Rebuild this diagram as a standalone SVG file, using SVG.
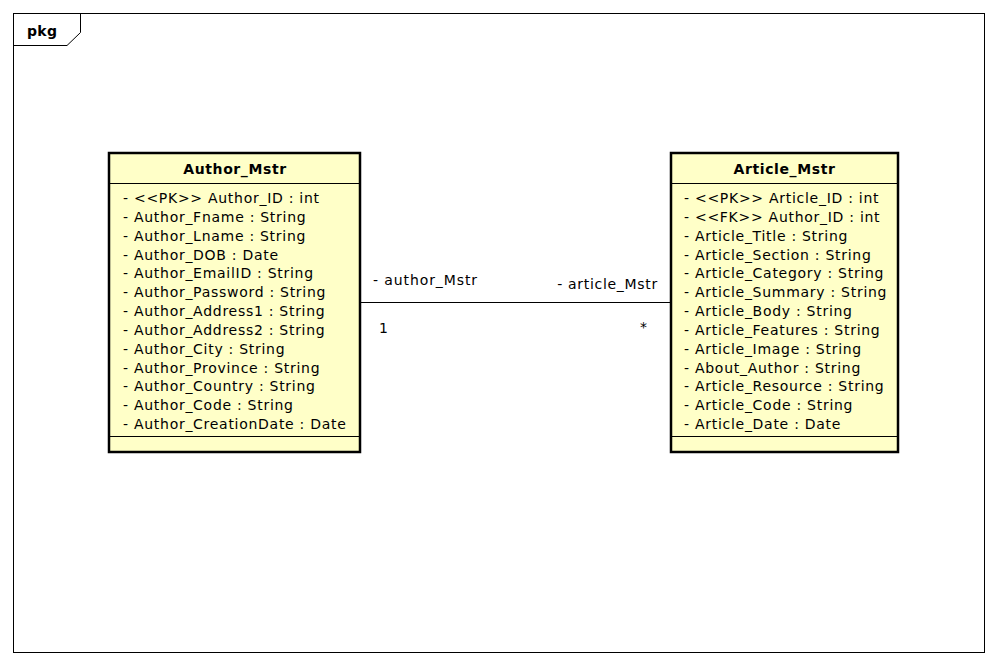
<svg xmlns="http://www.w3.org/2000/svg" width="998" height="666" viewBox="0 0 998 666">
<style>
text{font-family:"DejaVu Sans","Liberation Sans",sans-serif;font-size:14px;fill:#000;letter-spacing:0.72px}
.t{font-weight:bold;text-anchor:middle;letter-spacing:0.6px}
.box{fill:#FFFFC8;stroke:#000;stroke-width:2.5}
.sep{stroke:#000;stroke-width:1.2}
.ln{stroke:#000;stroke-width:1;fill:none}
</style>
<rect width="998" height="666" fill="#fff"/>
<g id="frame">
<rect x="13.5" y="13.5" width="971" height="639" class="ln"/>
<path d="M13.5 45.5 H67 L80.5 32.5 V13.5" class="ln"/>
<text x="27" y="36" style="font-weight:bold;letter-spacing:0.3px">pkg</text>
</g>
<g id="connectors">
<line x1="361" y1="302.5" x2="670" y2="302.5" class="ln"/>
<text x="373" y="285" style="letter-spacing:0.9px">- author_Mstr</text>
<text x="379" y="333">1</text>
<text x="658" y="289" text-anchor="end" style="letter-spacing:0.7px">- article_Mstr</text>
<text x="640" y="332">*</text>
</g>
<g id="Author_Mstr">
<rect x="109" y="153" width="251" height="299" class="box"/>
<line x1="109" y1="183.5" x2="360" y2="183.5" class="sep"/>
<line x1="109" y1="436.5" x2="360" y2="436.5" class="sep"/>
<text class="t" x="235" y="174">Author_Mstr</text>
<text x="123" y="203">- &lt;&lt;PK&gt;&gt; Author_ID : int</text>
<text x="123" y="221.8">- Author_Fname : String</text>
<text x="123" y="240.7">- Author_Lname : String</text>
<text x="123" y="259.5">- Author_DOB : Date</text>
<text x="123" y="278.3">- Author_EmailID : String</text>
<text x="123" y="297.2">- Author_Password : String</text>
<text x="123" y="316">- Author_Address1 : String</text>
<text x="123" y="334.8">- Author_Address2 : String</text>
<text x="123" y="353.7">- Author_City : String</text>
<text x="123" y="372.5">- Author_Province : String</text>
<text x="123" y="391.3">- Author_Country : String</text>
<text x="123" y="410.2">- Author_Code : String</text>
<text x="123" y="429">- Author_CreationDate : Date</text>
</g>
<g id="Article_Mstr">
<rect x="671" y="153" width="227" height="299" class="box"/>
<line x1="671" y1="183.5" x2="898" y2="183.5" class="sep"/>
<line x1="671" y1="436.5" x2="898" y2="436.5" class="sep"/>
<text class="t" x="784.5" y="174">Article_Mstr</text>
<text x="684" y="203">- &lt;&lt;PK&gt;&gt; Article_ID : int</text>
<text x="684" y="221.8">- &lt;&lt;FK&gt;&gt; Author_ID : int</text>
<text x="684" y="240.7">- Article_Title : String</text>
<text x="684" y="259.5">- Article_Section : String</text>
<text x="684" y="278.3">- Article_Category : String</text>
<text x="684" y="297.2">- Article_Summary : String</text>
<text x="684" y="316">- Article_Body : String</text>
<text x="684" y="334.8">- Article_Features : String</text>
<text x="684" y="353.7">- Article_Image : String</text>
<text x="684" y="372.5">- About_Author : String</text>
<text x="684" y="391.3">- Article_Resource : String</text>
<text x="684" y="410.2">- Article_Code : String</text>
<text x="684" y="429">- Article_Date : Date</text>
</g>
</svg>
